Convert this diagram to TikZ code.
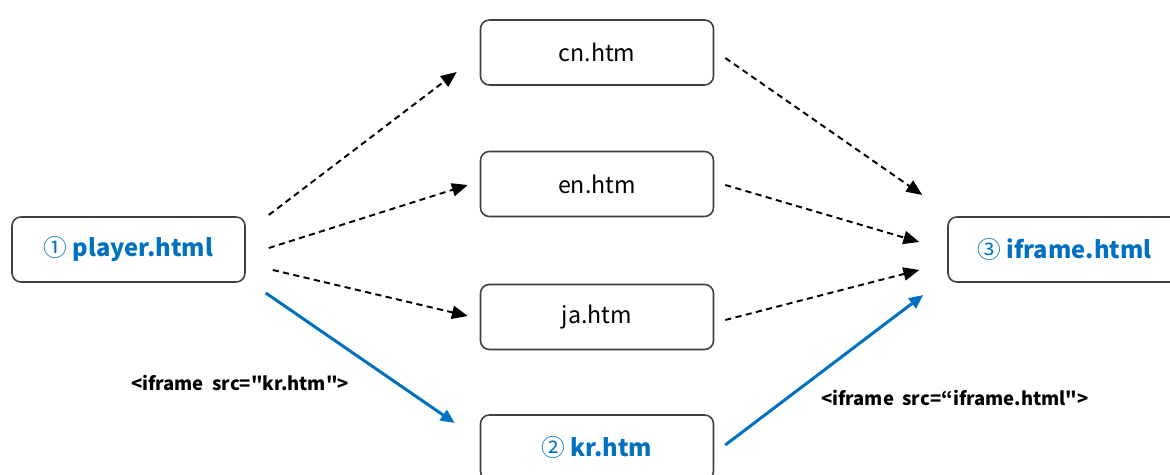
\documentclass[tikz,border=0pt]{standalone}
\usepackage{fontspec}
\setmainfont{Noto Sans CJK KR}[Ligatures=TeXOff]
\usetikzlibrary{arrows.meta,positioning}
\definecolor{fileblue}{RGB}{0,112,192}
\newcommand{\stepno}[1]{{\mdseries #1}}

\begin{document}
\begin{tikzpicture}[x=0.02cm,y=-0.02cm,
    page node/.style={draw=black!75,line width=0.9pt,rounded corners=5pt,fill=white,
        minimum width=4.66cm,minimum height=1.3cm,font=\fontsize{13.2}{16}\selectfont},
    main node/.style={page node,text=fileblue,font=\fontsize{13.5}{16}\selectfont\bfseries},
    dash link/.style={-{Triangle[length=9pt,width=7.5pt]},line width=1.1pt,dash pattern=on 3.5pt off 2.5pt},
    blue link/.style={-{Triangle[length=8pt,width=7pt]},line width=1.7pt,draw=fileblue},
    tag label/.style={font=\fontsize{10.5}{13}\selectfont\bfseries}]

\useasboundingbox (0,0) rectangle (1170,475);

\node[main node]   (player)  at (128.5,249.5) {\stepno{①} player.html};
\node[page node]   (cn)      at (597,52.5)    {cn.htm};
\node[page node]   (en)      at (597,184)     {en.htm};
\node[page node]   (ja)      at (597,317)     {ja.htm};
\node[main node]   (kr)      at (597,447.5)   {\stepno{②} kr.htm};
\node[main node]   (iframe)  at (1064.5,249.5) {\stepno{③} iframe.html};

% player.html -> language pages
\draw[dash link] ([shift={(23,-34.5)}]player.east) -- ([shift={(-23,19.5)}]cn.west);
\draw[dash link] ([shift={(23,-1.5)}]player.east) -- ([shift={(-12,1)}]en.west);
\draw[dash link] ([shift={(27,20.5)}]player.east) -- ([shift={(-12,-1)}]ja.west);
\draw[blue link] ([shift={(20,43.5)}]player.east) -- ([shift={(-25,-24.5)}]kr.west);

% language pages -> iframe.html
\draw[dash link] ([shift={(11,5.5)}]cn.east) -- ([shift={(-25,-54.5)}]iframe.west);
\draw[dash link] ([shift={(11,1)}]en.east) -- ([shift={(-28,-7.5)}]iframe.west);
\draw[dash link] ([shift={(11,3)}]ja.east) -- ([shift={(-28,20.5)}]iframe.west);
\draw[blue link] ([shift={(11,-2.5)}]kr.east) -- ([shift={(-24,45.5)}]iframe.west);

\node[tag label] (krtag)     at (240,383) {<iframe\ \ src="kr.htm">};
\node[tag label] (iframetag) at (955,398) {<iframe\ \ src=“iframe.html">};
\end{tikzpicture}
\end{document}
